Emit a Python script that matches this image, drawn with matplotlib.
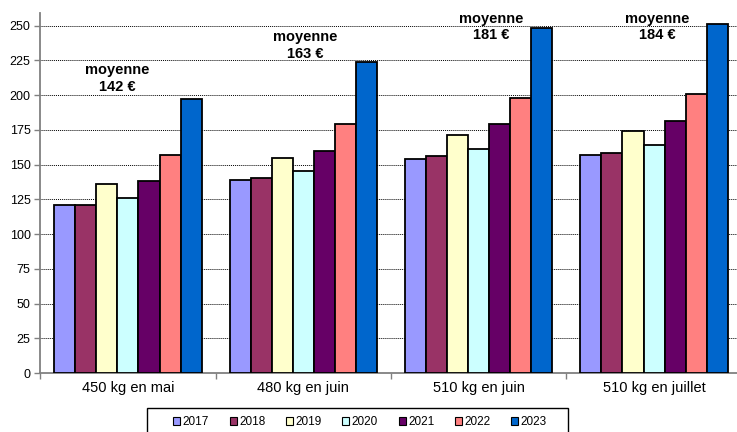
import matplotlib.pyplot as plt
import numpy as np
from matplotlib.patches import Rectangle

plt.rcParams['font.family'] = 'Liberation Sans'

# Data
categories = ["450 kg en mai", "480 kg en juin", "510 kg en juin", "510 kg en juillet"]
years = ["2017", "2018", "2019", "2020", "2021", "2022", "2023"]
prix = {
    "2017": [121, 139, 154, 157],
    "2018": [121, 140, 156, 158],
    "2019": [136, 155, 171, 174],
    "2020": [126, 145, 161, 164],
    "2021": [138, 160, 179, 181],
    "2022": [157, 179, 198, 201],
    "2023": [197, 224, 248, 251],
}
moyennes = [142, 163, 181, 184]
colors = ["#9999FF", "#993366", "#FFFFCC", "#CCFFFF", "#660066", "#FF8080", "#0066CC"]

fig = plt.figure(figsize=(7.37, 4.32), dpi=100)
ax = fig.add_axes([40.3 / 737, 59 / 432, 701.4 / 737, 360 / 432])

x = np.arange(len(categories))
w = 0.84 / len(years)
for i, (yr, c) in enumerate(zip(years, colors)):
    ax.bar(x - 0.42 + w * (i + 0.5), prix[yr], width=w, color=c,
           edgecolor="black", linewidth=1.3, label=yr, zorder=3)

# "moyenne" labels above each group
text_pos = [(-0.06, 212), (1.01, 235.5), (2.07, 249), (3.02, 249)]
for (tx, ty), m in zip(text_pos, moyennes):
    ax.text(tx, ty, f"moyenne\n{m} €", ha="center", va="center",
            fontsize=10.5, fontweight="bold", linespacing=1.25, zorder=4)

ax.set_xlim(-0.5, 3.5)
ax.set_ylim(0, 259)
ax.set_yticks(np.arange(0, 251, 25))
ax.yaxis.grid(True, linestyle=(0, (1, 1)), color="black", linewidth=0.7, zorder=0)
ax.set_axisbelow(True)

# category ticks at group boundaries, labels centered
ax.set_xticks(np.arange(-0.5, 3.6, 1))
ax.set_xticklabels([])
ax.set_xticks(x, minor=True)
ax.set_xticklabels(categories, minor=True, fontsize=10.5)
ax.tick_params(axis="x", which="minor", length=0, pad=6)
ax.tick_params(axis="x", which="major", length=4, width=1, color="#808080")
ax.tick_params(axis="y", length=4, width=1, color="#808080", labelsize=9, pad=3)

for s in ["top", "right"]:
    ax.spines[s].set_visible(False)
for s in ["left", "bottom"]:
    ax.spines[s].set_color("#808080")
    ax.spines[s].set_linewidth(1.3)

# legend: box drawn separately so the entries sit well inside it
fig.patches.append(Rectangle((147 / 737, -10 / 432), 421 / 737, 34 / 432,
                             transform=fig.transFigure, fill=False,
                             edgecolor="black", linewidth=1.0))
leg = fig.legend(loc="center", bbox_to_anchor=(360 / 737, 1 - 422 / 432),
                 ncol=7, fontsize=8.5, frameon=False,
                 handlelength=0.6, handleheight=0.6, handletextpad=0.2,
                 columnspacing=1.75, borderpad=0, borderaxespad=0)
for h in leg.legend_handles:
    h.set_linewidth(0.8)

fig.savefig("out.png", dpi=100)
